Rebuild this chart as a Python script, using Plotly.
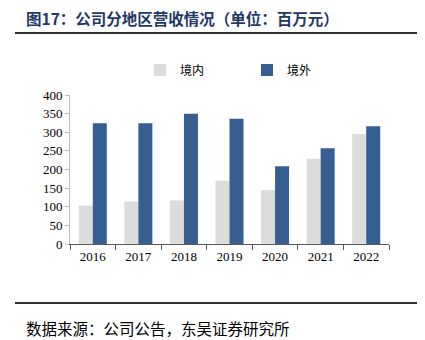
import plotly.graph_objects as go

years = ["2016", "2017", "2018", "2019", "2020", "2021", "2022"]
domestic = [103, 114, 117, 170, 145, 229, 295]
overseas = [324, 324, 350, 336, 209, 257, 316]

W, H = 425, 340
L, R, T, B = 70, 36, 95, 96
pw, ph = W - L - R, H - T - B

def px(x):
    return (x - L) / pw

def py(y):
    return (H - B - y) / ph

fig = go.Figure()
fig.add_bar(x=years, y=domestic, name="境内", marker=dict(color="#DCDCDC", line=dict(width=0)))
fig.add_bar(x=years, y=overseas, name="境外", marker=dict(color="#365E91", line=dict(width=0)))

tickfont = dict(family="Liberation Serif, Times New Roman, serif", size=13, color="#000000")
fig.update_layout(
    width=W, height=H,
    margin=dict(l=L, r=R, t=T, b=B),
    paper_bgcolor="white", plot_bgcolor="white",
    barmode="group", bargap=0.385, bargroupgap=0,
    showlegend=True,
    legend=dict(orientation="h", x=px(140), y=py(70), xanchor="left", yanchor="middle",
                entrywidth=62, entrywidthmode="pixels", itemwidth=30,
                font=dict(family="Noto Sans CJK SC", size=12, color="#000000"),
                bgcolor="rgba(0,0,0,0)"),
    xaxis=dict(showline=True, linecolor="#595959", linewidth=1, ticks="outside", tickson="boundaries",
               ticklen=5, tickcolor="#595959", tickfont=tickfont, showgrid=False),
    yaxis=dict(range=[0, 400], dtick=50, showline=True, linecolor="#BFBFBF", linewidth=1,
               ticks="outside", ticklen=4, tickcolor="#BFBFBF", tickfont=tickfont, showgrid=False,
               zeroline=False),
    font=dict(family="Noto Sans CJK SC"),
)

fig.add_shape(type="line", xref="paper", yref="paper", x0=px(15), x1=px(417), y0=py(33), y1=py(33),
              line=dict(color="#333333", width=2))
fig.add_shape(type="line", xref="paper", yref="paper", x0=px(15), x1=px(417), y0=py(303), y1=py(303),
              line=dict(color="#333333", width=2))
fig.add_annotation(xref="paper", yref="paper", x=px(24), y=py(18), xanchor="left", yanchor="middle",
                   text="<b>图17：公司分地区营收情况（单位：百万元）</b>", showarrow=False,
                   font=dict(family="Noto Sans CJK SC", size=15.5, color="#1F3864"))
fig.add_annotation(xref="paper", yref="paper", x=px(24), y=py(328), xanchor="left", yanchor="middle",
                   text="数据来源：公司公告，东吴证券研究所", showarrow=False,
                   font=dict(family="Noto Sans CJK SC", size=15.5, color="#000000"))

fig.write_html("out.html")
